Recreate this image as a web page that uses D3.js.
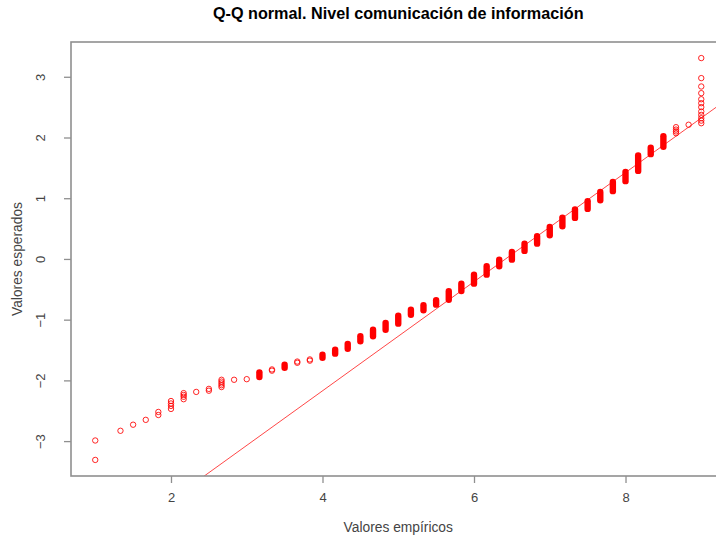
<!DOCTYPE html>
<html>
<head>
<meta charset="utf-8">
<script src="https://cdn.jsdelivr.net/npm/d3@7"></script>
<style>
  html, body { margin: 0; padding: 0; background: #fff; }
  svg { display: block; font-family: "Liberation Sans", Arial, Helvetica, sans-serif; }
</style>
</head>
<body>
<svg id="chart" width="716" height="537"></svg>
<script>
// ---- data ----
const title = "Q-Q normal. Nivel comunicación de información";
const xLabel = "Valores empíricos";
const yLabel = "Valores esperados";
const xTicks = [2, 4, 6, 8];
const yTicks = [-3, -2, -1, 0, 1, 2, 3];

// sparse levels: individual circles (empirical value, expected values)
const sparseX = [1, 1.333, 1.5, 1.667, 1.833, 2, 2.167, 2.333, 2.5, 2.667, 2.833, 3, 3.333, 3.667, 3.833, 8.667, 8.833, 9];
const sparseY = [
  [-3.31, -2.99],
  [-2.83],
  [-2.73],
  [-2.65],
  [-2.52, -2.57],
  [-2.34, -2.38, -2.42, -2.47],
  [-2.21, -2.24, -2.27, -2.31],
  [-2.19],
  [-2.14, -2.17],
  [-1.99, -2.02, -2.05, -2.08, -2.11],
  [-1.99],
  [-1.98],
  [-1.82, -1.84],
  [-1.69, -1.71],
  [-1.655, -1.675],
  [2.07, 2.10, 2.13, 2.17],
  [2.21],
  [2.235, 2.278, 2.318, 2.372, 2.427, 2.50, 2.565, 2.63, 2.73, 2.84, 2.978, 3.308]
];

// dense levels: overlapping circles forming a solid run (empirical value, lowest / highest expected)
const denseX    = [3.167, 3.5, 4, 4.167, 4.333, 4.5, 4.667, 4.833, 5, 5.167, 5.333, 5.5, 5.667, 5.833, 6, 6.167, 6.333, 6.5, 6.667, 6.833, 7, 7.167, 7.333, 7.5, 7.667, 7.833, 8, 8.167, 8.333, 8.5];
const denseLow  = [-1.945, -1.792, -1.627, -1.56, -1.48, -1.357, -1.274, -1.165, -1.066, -0.918, -0.846, -0.753, -0.671, -0.527, -0.407, -0.259, -0.12, -0.012, 0.132, 0.252, 0.391, 0.539, 0.676, 0.824, 0.967, 1.116, 1.281, 1.450, 1.726, 1.846];
const denseHigh = [-1.868, -1.742, -1.577, -1.495, -1.40, -1.274, -1.165, -1.055, -0.935, -0.836, -0.763, -0.681, -0.532, -0.407, -0.259, -0.12, -0.012, 0.115, 0.252, 0.374, 0.527, 0.681, 0.813, 0.951, 1.104, 1.269, 1.434, 1.703, 1.83, 2.02];

// reference line through the quartiles
const lineX = [5.667, 7.167];
const lineY = [-0.674, 0.674];

// ---- drawing ----
const svg = d3.select("#chart");
const plot = {left: 71, top: 42, bottom: 476, right: 725.5};
const red = "#ff0000";

const allX = sparseX.concat(denseX);
const allY = sparseY.flat().concat(denseLow, denseHigh);
const xe = d3.extent(allX), ye = d3.extent(allY);
const xp = (xe[1] - xe[0]) * 0.04, yp = (ye[1] - ye[0]) * 0.04;

const xs = d3.scaleLinear().domain([xe[0] - xp, xe[1] + xp]).range([plot.left, plot.right]);
const ys = d3.scaleLinear().domain([ye[0] - yp, ye[1] + yp]).range([plot.bottom, plot.top]);

svg.append("defs").append("clipPath").attr("id", "clip")
  .append("rect")
  .attr("x", plot.left).attr("y", plot.top)
  .attr("width", plot.right - plot.left).attr("height", plot.bottom - plot.top);

// qq line
const slope = (lineY[1] - lineY[0]) / (lineX[1] - lineX[0]);
const icpt = lineY[0] - slope * lineX[0];
const xd = xs.domain();
svg.append("line")
  .attr("clip-path", "url(#clip)")
  .attr("x1", xs(xd[0])).attr("y1", ys(icpt + slope * xd[0]))
  .attr("x2", xs(xd[1])).attr("y2", ys(icpt + slope * xd[1]))
  .attr("stroke", red).attr("stroke-width", 0.9).attr("opacity", 0.8);

// dense runs
const pts = svg.append("g").attr("clip-path", "url(#clip)");
pts.selectAll("line.dense").data(denseX).join("line")
  .attr("class", "dense")
  .attr("x1", d => xs(d)).attr("x2", d => xs(d))
  .attr("y1", (d, i) => ys(denseLow[i])).attr("y2", (d, i) => ys(denseHigh[i]))
  .attr("stroke", red).attr("stroke-width", 6.4).attr("stroke-linecap", "round");

// sparse circles
const sparsePts = sparseX.flatMap((x, i) => sparseY[i].map(y => ({x, y})));
pts.selectAll("circle").data(sparsePts).join("circle")
  .attr("cx", d => xs(d.x)).attr("cy", d => ys(d.y)).attr("r", 2.7)
  .attr("fill", "none").attr("stroke", red).attr("stroke-width", 1).attr("opacity", 0.85);

// frame
const axisColor = "#8f8f8f";
svg.append("rect")
  .attr("x", plot.left).attr("y", plot.top)
  .attr("width", plot.right - plot.left).attr("height", plot.bottom - plot.top)
  .attr("fill", "none").attr("stroke", axisColor).attr("stroke-width", 1.6);

// x axis
const gx = svg.append("g").attr("transform", `translate(0,${plot.bottom})`)
  .call(d3.axisBottom(xs).tickValues(xTicks).tickSize(7).tickPadding(10).tickFormat(d3.format("d")));
gx.select(".domain").remove();
gx.selectAll("line").attr("stroke", axisColor).attr("stroke-width", 1.3);
gx.selectAll("text").attr("fill", "#444").attr("font-size", 13).attr("font-family", null);

// y axis
const gy = svg.append("g").attr("transform", `translate(${plot.left},0)`)
  .call(d3.axisLeft(ys).tickValues(yTicks).tickSize(7).tickFormat(d3.format("d")));
gy.select(".domain").remove();
gy.selectAll("line").attr("stroke", axisColor).attr("stroke-width", 1.3);
gy.selectAll("text")
  .attr("x", 0).attr("dy", "0.35em")
  .attr("transform", "translate(-31,0) rotate(-90)")
  .attr("text-anchor", "middle")
  .attr("fill", "#444").attr("font-size", 13).attr("font-family", null);

// title and labels
svg.append("text")
  .attr("x", (plot.left + plot.right) / 2).attr("y", 19)
  .attr("text-anchor", "middle").attr("font-weight", "bold").attr("font-size", 16.2)
  .attr("fill", "#000").text(title);

svg.append("text")
  .attr("x", (plot.left + plot.right) / 2).attr("y", 532)
  .attr("text-anchor", "middle").attr("font-size", 13.8).attr("fill", "#444").text(xLabel);

svg.append("text")
  .attr("transform", `translate(22,${(plot.top + plot.bottom) / 2}) rotate(-90)`)
  .attr("text-anchor", "middle").attr("font-size", 13.8).attr("fill", "#444").text(yLabel);
</script>
</body>
</html>
